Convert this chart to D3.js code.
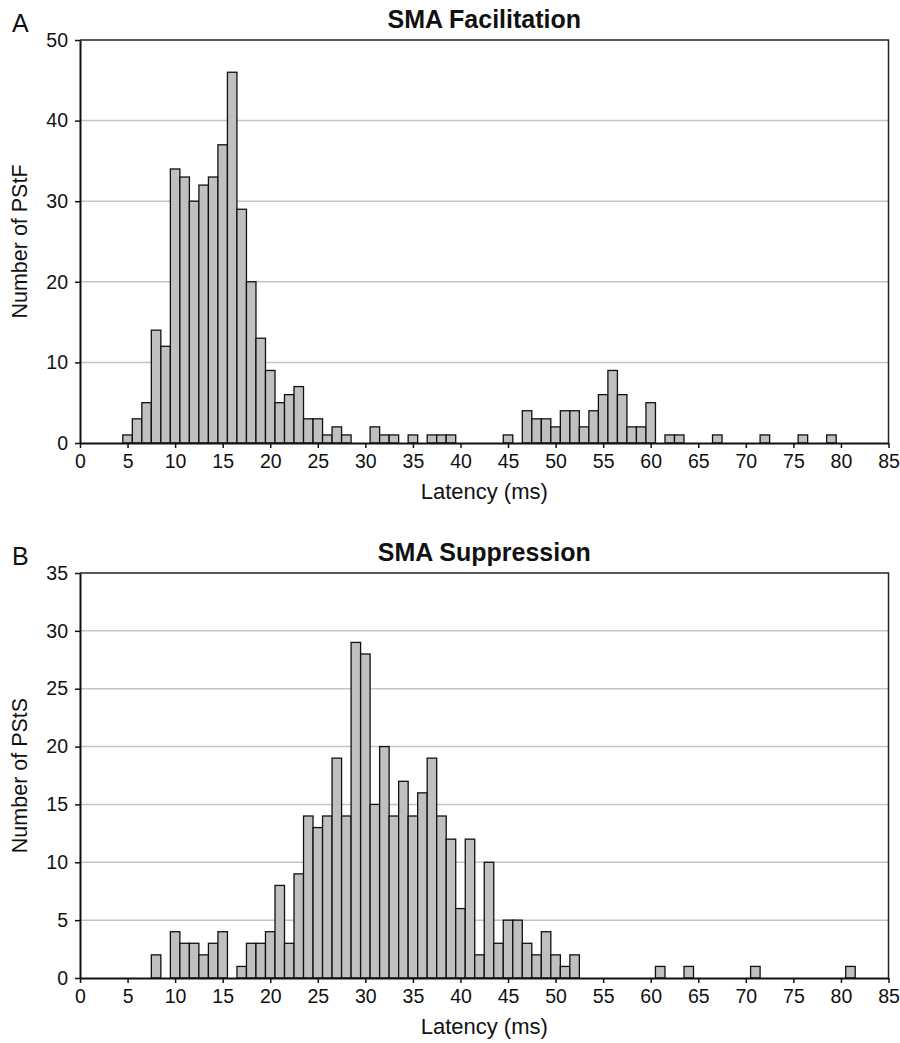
<!DOCTYPE html>
<html>
<head>
<meta charset="utf-8">
<script src="https://cdn.jsdelivr.net/npm/d3@7"></script>
<style>
  html, body { margin: 0; padding: 0; background: #fff; }
  svg { display: block; font-family: "Liberation Sans", Arial, sans-serif; }
</style>
</head>
<body>
<svg id="grafica" width="900" height="1043"></svg>
<script>
// latencias (ms) y numero de PStF / PStS
const latenciaA = [5,6,7,8,9,10,11,12,13,14,15,16,17,18,19,20,21,22,23,24,25,26,27,28,31,32,33,35,37,38,39,45,47,48,49,50,51,52,53,54,55,56,57,58,59,60,62,63,67,72,76,79];
const conteoA   = [1,3,5,14,12,34,33,30,32,33,37,46,29,20,13,9,5,6,7,3,3,1,2,1,2,1,1,1,1,1,1,1,4,3,3,2,4,4,2,4,6,9,6,2,2,5,1,1,1,1,1,1];

const latenciaB = [8,10,11,12,13,14,15,17,18,19,20,21,22,23,24,25,26,27,28,29,30,31,32,33,34,35,36,37,38,39,40,41,42,43,44,45,46,47,48,49,50,51,52,61,64,71,81];
const conteoB   = [2,4,3,3,2,3,4,1,3,3,4,8,3,9,14,13,14,19,14,29,28,15,20,14,17,14,16,19,14,12,6,12,2,10,3,5,5,3,2,4,2,1,2,1,1,1,1];

const ticksX  = d3.range(0, 90, 5);
const ticksYA = [0, 10, 20, 30, 40, 50];
const ticksYB = [0, 5, 10, 15, 20, 25, 30, 35];

const svg = d3.select('#grafica');

const izq = 80, der = 888.5;

function dibujarPanel(p) {
  const g = svg.append('g');

  const x = d3.scaleLinear().domain([0, 85]).range([izq, der]);
  const y = d3.scaleLinear().domain([0, p.ymax]).range([p.abajo, p.arriba]);

  // lineas de la cuadricula
  g.selectAll('line.grid')
    .data(p.ticksY.filter(v => v > 0 && v < p.ymax))
    .join('line')
    .attr('x1', izq).attr('x2', der)
    .attr('y1', d => y(d)).attr('y2', d => y(d))
    .attr('stroke', '#c4c4c4')
    .attr('stroke-width', 1.5);

  // barras
  const datos = p.lat.map((l, i) => ({ l, n: p.cnt[i] }));
  g.selectAll('rect.barra')
    .data(datos)
    .join('rect')
    .attr('x', d => x(d.l - 0.5))
    .attr('width', d => x(d.l + 0.5) - x(d.l - 0.5))
    .attr('y', d => y(d.n))
    .attr('height', d => y(0) - y(d.n))
    .attr('fill', '#c0c0c0')
    .attr('stroke', '#111')
    .attr('stroke-width', 1.3);

  // marco superior y derecho
  g.append('path')
    .attr('d', `M${izq},${p.arriba}H${der}V${p.abajo}`)
    .attr('fill', 'none')
    .attr('stroke', '#222')
    .attr('stroke-width', 1.5);

  const ejeX = g.append('g')
    .attr('transform', `translate(0,${p.abajo})`)
    .call(d3.axisBottom(x).tickValues(ticksX).tickSize(5).tickSizeOuter(0).tickPadding(6));
  const ejeY = g.append('g')
    .attr('transform', `translate(${izq},0)`)
    .call(d3.axisLeft(y).tickValues(p.ticksY).tickSize(5).tickSizeOuter(0).tickPadding(7));

  [ejeX, ejeY].forEach(e => {
    e.select('.domain').attr('stroke', '#111').attr('stroke-width', 2);
    e.selectAll('.tick line').attr('stroke', '#111').attr('stroke-width', 1.5);
    e.selectAll('.tick text')
      .attr('fill', '#111')
      .style('font-size', '19.5px')
      .style('font-family', '"Liberation Sans", Arial, sans-serif');
  });

  // titulo
  g.append('text')
    .attr('x', (izq + der) / 2)
    .attr('y', p.arriba - 12)
    .attr('text-anchor', 'middle')
    .style('font-size', '25px')
    .style('font-weight', 'bold')
    .attr('fill', '#111')
    .text(p.titulo);

  // letra del panel
  g.append('text')
    .attr('x', 12)
    .attr('y', p.arriba - 8)
    .style('font-size', '25px')
    .attr('fill', '#111')
    .text(p.letra);

  g.append('text')
    .attr('x', (izq + der) / 2)
    .attr('y', p.abajo + 56)
    .attr('text-anchor', 'middle')
    .style('font-size', '22px')
    .attr('fill', '#111')
    .text('Latency (ms)');

  g.append('text')
    .attr('transform', `translate(27,${(p.arriba + p.abajo) / 2}) rotate(-90)`)
    .attr('text-anchor', 'middle')
    .style('font-size', '21.5px')
    .attr('fill', '#111')
    .text(p.etiquetaY);
}

dibujarPanel({
  lat: latenciaA, cnt: conteoA, ymax: 50, ticksY: ticksYA,
  arriba: 40, abajo: 443,
  titulo: 'SMA Facilitation', letra: 'A', etiquetaY: 'Number of PStF'
});

dibujarPanel({
  lat: latenciaB, cnt: conteoB, ymax: 35, ticksY: ticksYB,
  arriba: 573, abajo: 978,
  titulo: 'SMA Suppression', letra: 'B', etiquetaY: 'Number of PStS'
});
</script>
</body>
</html>
